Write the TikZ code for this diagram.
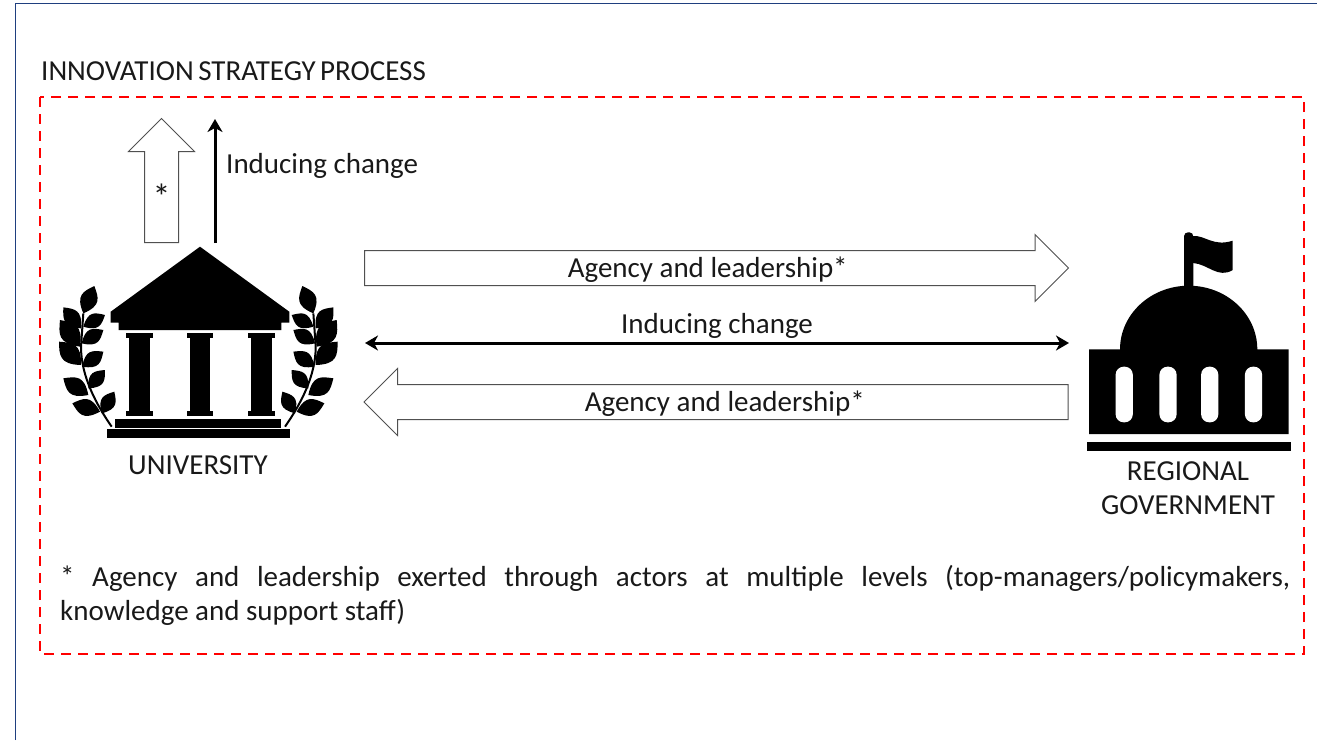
\documentclass[tikz,border=0pt]{standalone}
\usepackage{fontspec}
\setmainfont{Carlito}
\usetikzlibrary{shapes.arrows, arrows.meta, calc}
\definecolor{framenavy}{HTML}{1F3F7F}
\definecolor{boxred}{HTML}{FF0000}
\definecolor{arrowgrey}{HTML}{505050}
\tikzstyle{label} = [font=\fontsize{29}{34}\selectfont, text=black!90, inner sep=0pt, align=center]
\tikzstyle{blockarrow} = [single arrow, draw=arrowgrey, fill=white, line width=1pt, font=\fontsize{29}{34}\selectfont, text=black!90, single arrow head extend=16pt, single arrow tip angle=90, text height=21pt, text depth=3pt, inner ysep=5pt, inner xsep=0pt]
\tikzstyle{arrow} = [line width=3pt,-{Stealth[length=13pt,width=15pt,inset=4pt]}]
\tikzstyle{dblarrow} = [line width=3pt,{Stealth[length=13pt,width=15pt,inset=4pt]}-{Stealth[length=13pt,width=15pt,inset=4pt]}]
\newcommand{\laurelleaf}[4]{\fill (#1,#2) .. controls ($(#1,#2)!.68!45:(#3,#4)$) and ($(#3,#4)!.42!-42:(#1,#2)$) .. (#3,#4) .. controls ($(#3,#4)!.42!42:(#1,#2)$) and ($(#1,#2)!.68!-45:(#3,#4)$) .. (#1,#2) -- cycle;}
\newcommand{\laurelbranch}{%
	\draw [line width=2pt] (170,440) .. controls (125,375) and (78,290) .. (78,200) -- (85,100);
	\foreach \bx/\by/\tx/\ty in {85/100/118/18, 78/145/25/82, 85/140/150/105, 75/200/15/120, 80/190/145/150, 78/255/12/185, 82/260/145/215, 100/345/25/295, 100/325/150/270, 135/395/52/370, 140/400/178/335}
		{\laurelleaf{\bx}{\by}{\tx}{\ty}}
}
\begin{document}
\begin{tikzpicture}[x=1pt, y=-1pt]
	\useasboundingbox (0,0) rectangle (1317,740);
	% Frame
	\draw [framenavy, line width=1.8pt] (15.5,740) -- (15.5,3.5) -- (1317,3.5);
	\draw [boxred, line width=2.3pt, dash pattern=on 10pt off 7pt] (40,97) rectangle (1304,654);

	% University
	\fill (200,246.7) -- (289.3,311.7) -- (289.3,322.7) -- (281.3,322.7) -- (281.3,330) -- (118.7,330) -- (118.7,322.7) -- (110.7,322.7) -- (110.7,311.7) -- cycle;
	\foreach \colx in {139.5, 200, 261.3} {
		\fill (\colx-13.3,333.3) rectangle (\colx+13.3,338);
		\fill (\colx-10.3,338) rectangle (\colx+10.3,411);
		\fill (\colx-13.3,411) rectangle (\colx+13.3,416);
	}
	\fill (115.3,418.7) rectangle (281.3,428);
	\fill (107.3,429.3) rectangle (290,438);
	\begin{scope}[shift={(55,280)}, x=0.3333pt, y=-0.3333pt]
		\laurelbranch
	\end{scope}
	\begin{scope}[shift={(341.7,280)}, x=-0.3333pt, y=-0.3333pt]
		\laurelbranch
	\end{scope}

	% Government
	\fill (1089,434) -- (1089,349.3) -- (1120,349.3) .. controls (1120,314.2) and (1150.8,285.7) .. (1188.7,285.7) .. controls (1226.6,285.7) and (1257.3,314.2) .. (1257.3,349.3) -- (1288.7,349.3) -- (1288.7,434) -- cycle;
	\fill [rounded corners=4pt] (1184,290) -- (1184,232.3) -- (1193.3,232.3) -- (1193.3,290) -- cycle;
	\fill (1193,236) .. controls (1205,235) and (1213,247) .. (1232.7,240.7) -- (1232.7,270) .. controls (1218,279) and (1208,264) .. (1193,263) -- cycle;
	\foreach \winx in {1124.2, 1168, 1209.7, 1253.5}
		\fill [white, rounded corners=8pt] (\winx-8.6,366.7) rectangle (\winx+8.6,422.3);
	\fill (1086.7,442) rectangle (1290.7,451.3);

	% Nodes
	\node (title) [label, anchor=base west] at (41,80) {\spaceskip=4.5pt INNOVATION STRATEGY PROCESS};
	\node (university) [label] at (198,465) {UNIVERSITY};
	\node (government) [label] at (1188,488) {REGIONAL\\GOVERNMENT};
	\node (upchange) [label, anchor=west] at (226,166) {Inducing change};
	\node (midchange) [label] at (717,326) {Inducing change};
	\node (note) [label, anchor=north west, text width=1230pt, align=justify] at (60,565) {* Agency and leadership exerted through actors at multiple levels (top-managers/policymakers, \mbox{knowledge} and support staff)};

	\node (agencyright) [blockarrow, anchor=tail, minimum height=704pt] at (364,268) {Agency and leadership*};
	\node (agencyleft) [blockarrow, shape border rotate=180, anchor=tail, minimum height=704pt] at (1068.5,402) {Agency and leadership*};
	\node (agencyup) [blockarrow, shape border rotate=90, anchor=tail, minimum height=124pt, text width=22pt, align=center, inner xsep=5.5pt, font=\fontsize{36}{40}\selectfont, text height=40pt, text depth=0pt] at (161.5,243) {*};

	\coordinate (changeleft) at (365,343);
	\coordinate (changeright) at (1069,343);
	\coordinate (upstart) at (215,243);
	\coordinate (upend) at (215,119);

	% Arrows
	\draw [dblarrow] (changeleft) -- (changeright);
	\draw [arrow] (upstart) -- (upend);
\end{tikzpicture}
\end{document}
